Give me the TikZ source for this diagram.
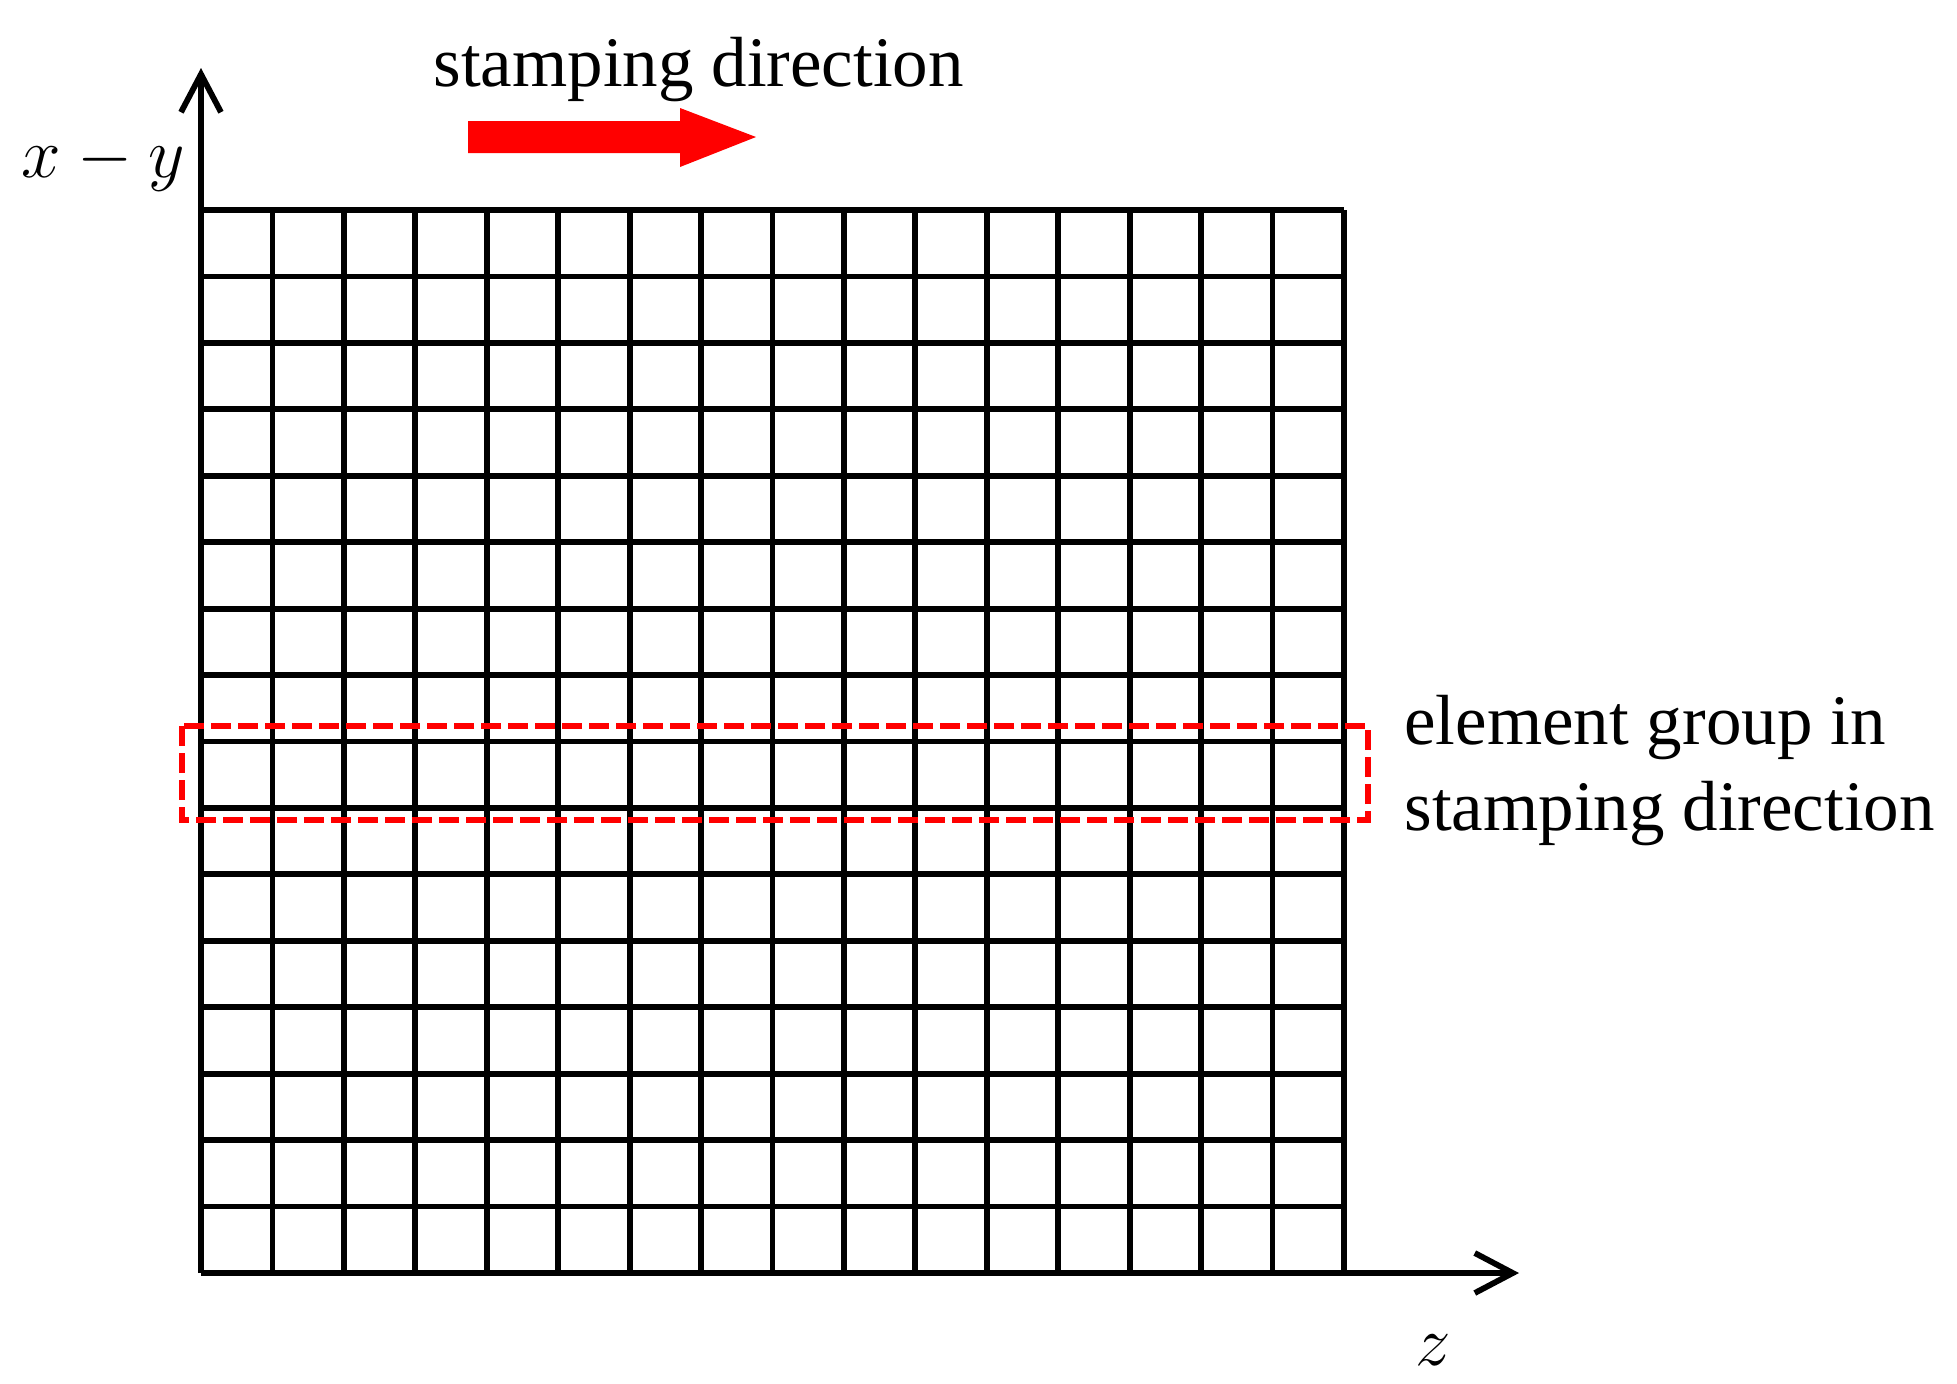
\RequirePackage{fix-cm}
\documentclass[tikz,border=0pt]{standalone}
\usepackage{fontspec}
\setmainfont{Liberation Serif}
\usetikzlibrary{arrows.meta}
\tikzset{
  gridline/.style={line width=2.9pt, black},
  axisline/.style={line width=2.9pt, black, -{Straight Barb[length=19pt,width=20pt,line width=2.9pt]}},
  groupbox/.style={draw=red, line width=3pt, dash pattern=on 10pt off 3.5pt},
  lbl/.style={inner sep=0pt, font=\fontsize{35.5}{43}\selectfont},
}
\begin{document}
\begin{tikzpicture}[x=0.5pt, y=-0.5pt]
\useasboundingbox (0,0) rectangle (1957,1383);
% grid
\def\gl{201}\def\gr{1344}\def\gt{210}\def\gb{1273}
\foreach \i in {0,...,16} {
  \draw[gridline] ({\gl+\i*71.4375},\gt) -- ({\gl+\i*71.4375},\gb);
  \draw[gridline] (\gl,{\gt+\i*66.4375}) -- (\gr,{\gt+\i*66.4375});
}
% axes
\coordinate (origin) at (201,1273);
\coordinate (ytip) at (201,68);
\coordinate (ztip) at (1519,1273);
\draw[axisline] (origin) -- (ytip);
\draw[axisline] (origin) -- (ztip);
% group box
\draw[groupbox] (182,726) rectangle (1368,820);
% red arrow
\fill[red] (468,121) -- (680,121) -- (680,108) -- (756,137) -- (680,167) -- (680,153) -- (468,153) -- cycle;
% labels
\node[lbl, anchor=base west] (stamp) at (433,86) {stamping direction};
\node[lbl, anchor=base east] (xy) at (185,177) {$x-y$};
\node[lbl, anchor=base] (z) at (1433,1365) {$z$};
\node[lbl, anchor=base west] (grp1) at (1404,744) {element group in};
\node[lbl, anchor=base west] (grp2) at (1404,830) {stamping direction};
\end{tikzpicture}
\end{document}
